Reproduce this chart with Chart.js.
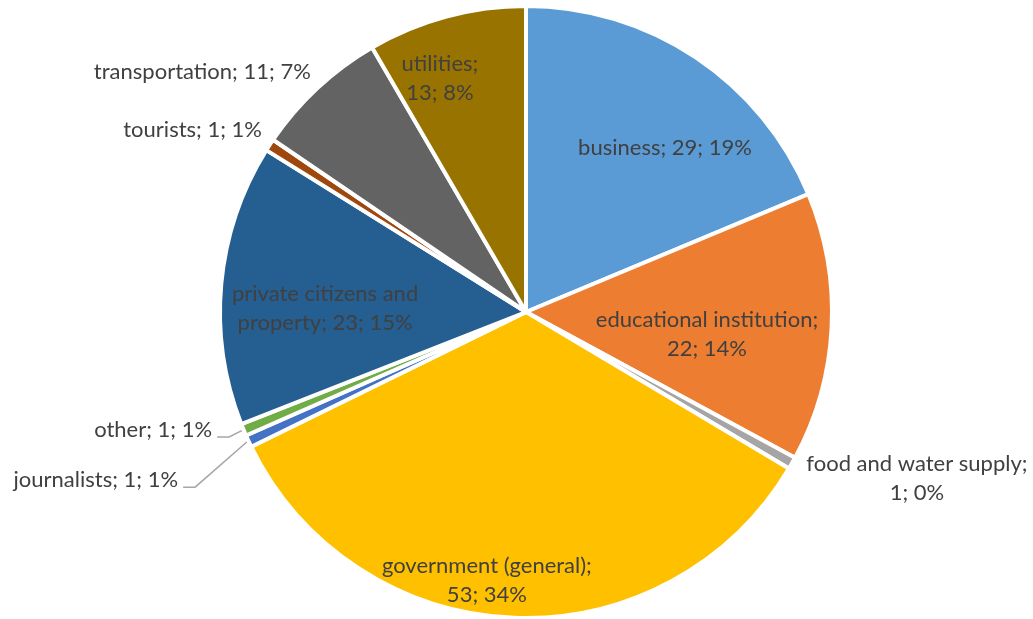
<!DOCTYPE html>
<html lang="en">
<head>
  <meta charset="UTF-8" />
  <title>Targets by Category</title>
  <script src="https://cdn.jsdelivr.net/npm/chart.js"></script>
  <style>
    html, body { margin: 0; padding: 0; background: #ffffff; }
    canvas { display: block; }
  </style>
</head>
<body>
  <canvas id="targetChart" width="1033" height="619"></canvas>

  <script>
    const categories = ['business', 'educational institution', 'food and water supply', 'government (general)',
      'journalists', 'other', 'private citizens and property', 'tourists', 'transportation', 'utilities'];
    const counts = [29, 22, 1, 53, 1, 1, 23, 1, 11, 13];
    const shareLabels = ['19%', '14%', '0%', '34%', '1%', '1%', '15%', '1%', '7%', '8%'];

    const sliceColors = ['#5B9BD5', '#ED7D31', '#A5A5A5', '#FFC000', '#4472C4',
      '#70AD47', '#255E91', '#9E480E', '#636363', '#997300'];

    // label placement: angle clockwise from 12 o'clock (deg), distance as a share of the radius,
    // text alignment at that point, how many words go on the first line, leader line or not
    const labelSpots = [
      { angle: 40.3, dist: 0.707, align: 'center', breakAt: 0 },
      { angle: 97.2, dist: 0.600, align: 'center', breakAt: 2 },
      { angle: 113.0, dist: 1.397, align: 'center', breakAt: 4 },
      { angle: 188.3, dist: 0.891, align: 'center', breakAt: 2 },
      { angle: 244.2, dist: 1.271, align: 'right', breakAt: 0, leader: true },
      { angle: 249.4, dist: 1.103, align: 'right', breakAt: 0, leader: true },
      { angle: 271.1, dist: 0.661, align: 'center', breakAt: 3 },
      { angle: 304.6, dist: 1.055, align: 'right', breakAt: 0 },
      { angle: 318.1, dist: 1.060, align: 'right', breakAt: 0 },
      { angle: 339.8, dist: 0.820, align: 'center', breakAt: 1 }
    ];

    const sliceLabels = {
      id: 'sliceLabels',
      afterDatasetsDraw(chart) {
        const ctx = chart.ctx;
        const arcs = chart.getDatasetMeta(0).data;
        ctx.save();
        ctx.font = '22px Lato';
        ctx.fillStyle = '#404040';
        ctx.textBaseline = 'middle';
        arcs.forEach((arc, i) => {
          const spot = labelSpots[i];
          const { x: cx, y: cy, outerRadius, startAngle, endAngle } =
            arc.getProps(['x', 'y', 'outerRadius', 'startAngle', 'endAngle'], true);
          const r = outerRadius - 2;
          const a = spot.angle * Math.PI / 180;
          const px = cx + Math.sin(a) * spot.dist * r;
          const py = cy - Math.cos(a) * spot.dist * r;

          const words = `${categories[i]}; ${counts[i]}; ${shareLabels[i]}`.split(' ');
          const lines = spot.breakAt
            ? [words.slice(0, spot.breakAt).join(' '), words.slice(spot.breakAt).join(' ')]
            : [words.join(' ')];
          ctx.textAlign = spot.align;
          lines.forEach((line, k) => {
            ctx.fillText(line, px, py + (k - (lines.length - 1) / 2) * 29);
          });

          if (spot.leader) {
            const mid = (startAngle + endAngle) / 2;
            ctx.beginPath();
            ctx.strokeStyle = '#A6A6A6';
            ctx.lineWidth = 1.5;
            ctx.moveTo(px + 5, py + 7);
            ctx.lineTo(px + 17, py + 7);
            ctx.lineTo(cx + Math.cos(mid) * (r + 4), cy + Math.sin(mid) * (r + 4));
            ctx.stroke();
          }
        });
        ctx.restore();
      }
    };

    new Chart(document.getElementById('targetChart'), {
      type: 'pie',
      data: {
        labels: categories,
        datasets: [{
          data: counts,
          backgroundColor: sliceColors,
          borderColor: '#ffffff',
          borderWidth: 4,
          borderJoinStyle: 'round'
        }]
      },
      options: {
        responsive: false,
        animation: false,
        radius: 306,
        layout: { padding: { left: 222, right: 203, top: 8, bottom: 3 } },
        plugins: {
          legend: { display: false },
          tooltip: { enabled: false }
        }
      },
      plugins: [sliceLabels]
    });
  </script>
</body>
</html>
